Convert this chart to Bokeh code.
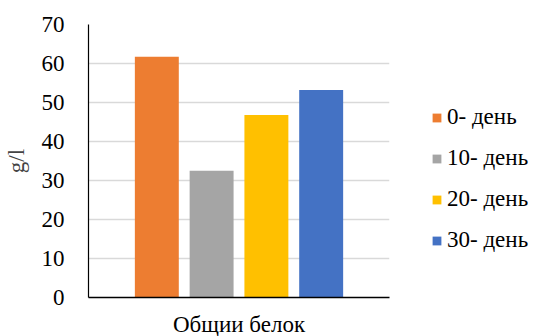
from bokeh.plotting import figure
from bokeh.models import ColumnDataSource, Legend, LegendItem, FactorRange, Range1d, FixedTicker
from bokeh.transform import dodge
from bokeh.embed import file_html
from bokeh.resources import INLINE

category = ["Общии белок"]
series = ["0- день", "10- день", "20- день", "30- день"]
values = [61.7, 32.5, 46.8, 53.2]
colors = ["#ED7D31", "#A5A5A5", "#FFC000", "#4472C4"]
offsets = [-0.273, -0.091, 0.091, 0.273]
y_ticks = [0, 10, 20, 30, 40, 50, 60, 70]

FONT = "Liberation Serif"
SIZE = "23px"

p = figure(
    width=534, height=336,
    x_range=FactorRange(*category), y_range=Range1d(0, 70),
    output_backend="svg", toolbar_location=None,
    min_border_left=88, min_border_right=145, min_border_top=24, min_border_bottom=39,
    frame_width=301, frame_height=273,
)
p.outline_line_color = None
p.background_fill_color = "white"
p.border_fill_color = "white"

items = []
for name, val, col, off in zip(series, values, colors, offsets):
    src = ColumnDataSource(dict(x=category, top=[val]))
    r = p.vbar(x=dodge("x", off, range=p.x_range), top="top", width=0.146,
               source=src, fill_color=col, line_color=None)
    items.append(LegendItem(label=name, renderers=[r]))

p.xgrid.grid_line_color = None
p.ygrid.grid_line_color = "#d9d9d9"
p.ygrid.grid_line_width = 1.3

p.yaxis.ticker = FixedTicker(ticks=y_ticks)
p.yaxis.axis_label = "g/l"
p.yaxis.axis_label_text_font = FONT
p.yaxis.axis_label_text_font_style = "normal"
p.yaxis.axis_label_text_font_size = SIZE
p.yaxis.axis_label_standoff = 10
p.yaxis.major_label_text_font = FONT
p.yaxis.major_label_text_font_size = SIZE
p.yaxis.major_label_text_color = "#000000"
p.yaxis.major_tick_line_color = None
p.yaxis.minor_tick_line_color = None
p.yaxis.axis_line_color = "#000000"
p.yaxis.axis_line_width = 1.2
p.yaxis.major_label_standoff = 18

p.xaxis.major_label_text_font = FONT
p.xaxis.major_label_text_font_size = SIZE
p.xaxis.major_label_text_color = "#000000"
p.xaxis.major_tick_line_color = None
p.xaxis.minor_tick_line_color = None
p.xaxis.axis_line_color = "#000000"
p.xaxis.axis_line_width = 1.5
p.xaxis.major_label_standoff = 8

legend = Legend(items=items, location=(42, 44))
legend.background_fill_alpha = 0
legend.border_line_color = None
legend.label_text_font = FONT
legend.label_text_font_size = SIZE
legend.label_text_color = "#000000"
legend.glyph_width = 11
legend.glyph_height = 11
legend.label_height = 20
legend.label_standoff = 5
legend.spacing = 15
legend.padding = 0
legend.margin = 0
p.add_layout(legend, "right")

open("out.html", "w").write(file_html(p, INLINE))
